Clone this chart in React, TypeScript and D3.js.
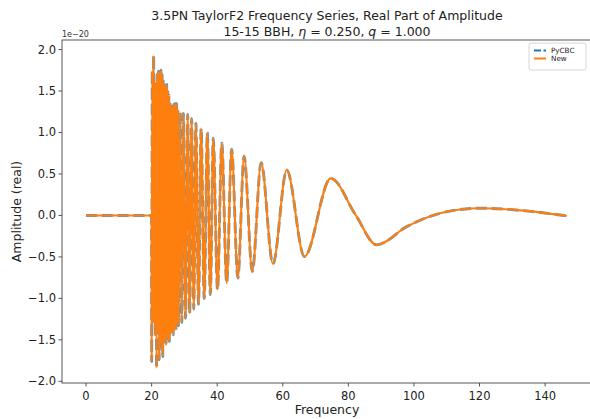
import React from 'react';
import * as d3 from 'd3';

// Frequency (Hz) and real amplitude (units of 1e-20)
const freq = [
  0, 19.98,
  20.02, 20.2, 20.4, 20.6, 20.8, 21.0, 21.15, 21.3, 21.5, 21.7, 21.9, 22.1, 22.3, 22.5, 22.7, 22.85,
  23.05, 23.2, 23.4, 23.55, 23.75, 23.9, 24.1, 24.25, 24.4, 24.6, 24.75, 24.9, 25.05, 25.25, 25.4,
  25.6, 25.75, 25.9, 26.1, 26.35, 26.6, 26.8, 27.0, 27.2, 27.4, 27.6, 27.8, 28.0, 28.2, 28.7,
  29.2, 29.7, 30.35, 31.0, 31.6, 32.2, 32.85, 33.5, 34.3, 35.1, 36.05, 37.0, 37.9, 38.8, 40.1,
  41.4, 42.9, 44.4, 46.3, 48.2, 50.7, 53.4, 57.0, 61.2, 66.6, 74.6, 82.3, 88.6, 97.8, 107.9,
  120.1, 133.3, 146.6,
];
const amp = [
  0, 0,
  -1.76, 1.75, -1.30, 1.93, -1.28, 1.62, -1.45, 1.58, -1.84, 1.70, -1.40, 1.74, -1.74, 1.73, -1.55, 1.75,
  -1.62, 1.70, -1.70, 1.62, -1.50, 1.55, -1.52, 1.57, -1.57, 1.58, -1.45, 1.52, -1.48, 1.45, -1.52,
  1.36, -1.40, 1.31, -1.42, 1.32, -1.44, 1.34, -1.36, 1.35, -1.38, 1.35, -1.30, 1.28, -1.33, 1.24,
  -1.29, 1.23, -1.24, 1.22, -1.18, 1.17, -1.13, 1.11, -1.07, 1.05, -1.0, 1.0, -0.955, 0.93, -0.895,
  0.87, -0.815, 0.80, -0.755, 0.715, -0.675, 0.635, -0.583, 0.547, -0.495, 0.447, 0.0, -0.355, -0.135, 0.026,
  0.087, 0.058, -0.006,
];

const xTicks = [0, 20, 40, 60, 80, 100, 120, 140];
const yTicks = [-2.0, -1.5, -1.0, -0.5, 0.0, 0.5, 1.0, 1.5, 2.0];
const seriesNames = ['PyCBC', 'New'];
const titleLine1 = '3.5PN TaylorF2 Frequency Series, Real Part of Amplitude';
const xLabel = 'Frequency';
const yLabel = 'Amplitude (real)';
const offsetText = '1e\u221220';

export default function App() {
  const W = 590, H = 419;
  const left = 62, right = 592, top = 40, bottom = 383;
  const x = d3.scaleLinear().domain([-7.33, 154.3]).range([left, right]);
  const y = d3.scaleLinear().domain([-2.02, 2.115]).range([bottom, top]);
  const pts = freq.map((f, i) => [f, amp[i]] as [number, number]);
  const line = d3.line<[number, number]>()
    .x(d => x(d[0]))
    .y(d => y(d[1]))
    .curve(d3.curveMonotoneX);
  const path = line(pts) || '';
  const fmt = (v: number) => d3.format('.1f')(v).replace('-', '\u2212');
  const font = 'DejaVu Sans, sans-serif';
  const blue = '#1f77b4', orange = '#ff7f0e';
  const cx = (left + right) / 2;
  return (
    <svg width={W} height={H} style={{ position: 'absolute', left: 0, top: 0, background: '#fff' }} fontFamily={font}>
      <rect x={0} y={0} width={W} height={H} fill="#fff" />
      <path d={path} fill="none" stroke={blue} strokeOpacity={0.75} strokeWidth={2.9} strokeDasharray="11,4.8" strokeLinejoin="round" />
      <path d={path} fill="none" stroke={orange} strokeWidth={2.1} strokeLinejoin="round" />
      {/* spines */}
      <rect x={left} y={top} width={right - left} height={bottom - top} fill="none" stroke="#444" strokeWidth={0.9} />
      {xTicks.map(t => (
        <g key={'x' + t}>
          <line x1={x(t)} x2={x(t)} y1={bottom} y2={bottom + 3.5} stroke="#444" strokeWidth={0.9} />
          <text x={x(t)} y={bottom + 17} textAnchor="middle" fontSize={11.5} fill="#222">{t}</text>
        </g>
      ))}
      {yTicks.map(t => (
        <g key={'y' + t}>
          <line x1={left - 3.5} x2={left} y1={y(t)} y2={y(t)} stroke="#444" strokeWidth={0.9} />
          <text x={left - 6} y={y(t) + 4} textAnchor="end" fontSize={11.5} fill="#222">{fmt(t)}</text>
        </g>
      ))}
      <text x={left} y={37} fontSize={8} fill="#333">{offsetText}</text>
      <text x={cx} y={414} textAnchor="middle" fontSize={12.5} fill="#222">{xLabel}</text>
      <text transform={`translate(21,${(top + bottom) / 2}) rotate(-90)`} textAnchor="middle" fontSize={12.5} fill="#222">{yLabel}</text>
      <text x={cx} y={19.5} textAnchor="middle" fontSize={12.5} fill="#222">{titleLine1}</text>
      <text x={cx} y={35.5} textAnchor="middle" fontSize={12.5} fill="#222">
        15-15 BBH, <tspan fontStyle="italic">η</tspan> = 0.250, <tspan fontStyle="italic">q</tspan> = 1.000
      </text>
      {/* legend */}
      <g>
        <rect x={529} y={43} width={57} height={27} rx={2} fill="#fff" fillOpacity={0.8} stroke="#ccc" strokeWidth={0.8} />
        <line x1={534} x2={546} y1={50.5} y2={50.5} stroke={blue} strokeWidth={2} strokeDasharray="7,2.5" />
        <line x1={534} x2={546} y1={58.5} y2={58.5} stroke={orange} strokeWidth={2} />
        <text x={551} y={53} fontSize={7.2} fill="#222">{seriesNames[0]}</text>
        <text x={551} y={61} fontSize={7.2} fill="#222">{seriesNames[1]}</text>
      </g>
    </svg>
  );
}
